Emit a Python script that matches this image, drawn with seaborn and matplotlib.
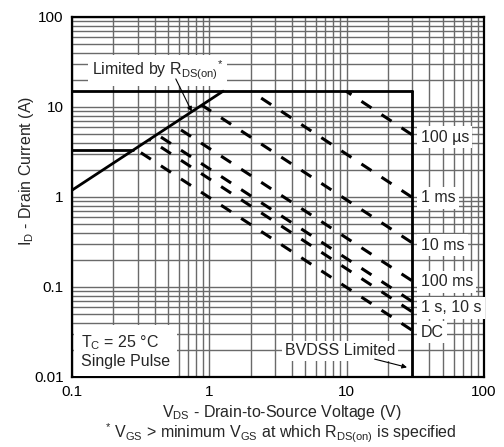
import numpy as np
import pandas as pd
import matplotlib
matplotlib.use("Agg")
import matplotlib.pyplot as plt
from matplotlib.ticker import LogLocator, NullFormatter, FixedLocator, FixedFormatter
import seaborn as sns

# ---------------- data ----------------
x_ticks = [0.1, 1, 10, 100]
x_tick_labels = ["0.1", "1", "10", "100"]
y_ticks = [0.01, 0.1, 1, 10, 100]
y_tick_labels = ["0.01", "0.1", "1", "10", "100"]

# R_DS(on) limit line
rds_v = [0.1, 1.26]
rds_i = [1.19, 15.0]
# package / pulsed current limit
cap_v = [0.1, 30.0]
cap_i = [15.0, 15.0]
# lower current step
low_v = [0.1, 0.28]
low_i = [3.35, 3.35]
# BVDSS limit
bv_v = [30.0, 30.0]
bv_i = [0.01, 15.0]

# pulse-duration (constant power) lines
pulse_names = ["100 µs", "1 ms", "10 ms", "100 ms", "1 s", "10 s", "DC"]
pulse_v_start = [9.9, 2.0, 0.88, 0.54, 0.42, 0.37, 0.29]
pulse_i_start = [15.0, 15.0, 10.5, 6.4, 4.9, 4.3, 3.4]
pulse_v_end = [30.0, 30.0, 30.0, 30.0, 30.0, 30.0, 30.0]
pulse_i_end = [4.9, 0.99, 0.31, 0.117, 0.069, 0.053, 0.033]

right_labels = ["100 µs", "1 ms", "10 ms", "100 ms", "1 s, 10 s", "DC"]
right_label_i = [4.6, 0.975, 0.29, 0.115, 0.059, 0.0316]

# ---------------- style ----------------
sns.set_style("white")
plt.rcParams["font.family"] = ["Liberation Sans", "DejaVu Sans"]
plt.rcParams["mathtext.fontset"] = "custom"
plt.rcParams["mathtext.rm"] = "Liberation Sans"
plt.rcParams["mathtext.it"] = "Liberation Sans:italic"
plt.rcParams["mathtext.bf"] = "Liberation Sans:bold"
plt.rcParams["lines.scale_dashes"] = False

DPI = 100
fig = plt.figure(figsize=(5.04, 4.47), dpi=DPI)
W, H = 504, 447
L, R, T, B = 72, 484, 17, 377
ax = fig.add_axes([L / W, 1 - B / H, (R - L) / W, (B - T) / H])
ax.set_xscale("log")
ax.set_yscale("log")
ax.set_xlim(0.1, 100)
ax.set_ylim(0.01, 100)

# grid
ax.xaxis.set_major_locator(FixedLocator(x_ticks))
ax.xaxis.set_major_formatter(FixedFormatter(x_tick_labels))
ax.yaxis.set_major_locator(FixedLocator(y_ticks))
ax.yaxis.set_major_formatter(FixedFormatter(y_tick_labels))
ax.xaxis.set_minor_locator(LogLocator(base=10, subs=range(2, 10)))
ax.yaxis.set_minor_locator(LogLocator(base=10, subs=range(2, 10)))
ax.xaxis.set_minor_formatter(NullFormatter())
ax.yaxis.set_minor_formatter(NullFormatter())
ax.set_axisbelow(True)
ax.grid(True, which="both", color="#6a6a6a", lw=1.0)
ax.tick_params(which="both", length=0, labelsize=11, pad=6, colors="black")

for s in ax.spines.values():
    s.set_color("black")
    s.set_linewidth(1.6)

# solid limit lines
solid = pd.DataFrame({
    "V": rds_v + cap_v + low_v + bv_v,
    "I": rds_i + cap_i + low_i + bv_i,
    "seg": ["rds"] * 2 + ["cap"] * 2 + ["low"] * 2 + ["bv"] * 2,
})
for seg, g in solid.groupby("seg", sort=False):
    sns.lineplot(data=g, x="V", y="I", color="black", lw=2.0, sort=False,
                 estimator=None, ax=ax, legend=False, zorder=3)

# dashed pulse lines, dash phase aligned in columns
ax.set_xlim(0.1, 100)
ax.set_ylim(0.01, 100)
ref_v = 0.87
period_dec = 0.146
xr = ax.transData.transform((ref_v, 1))[0]
period_px = ax.transData.transform((ref_v * 10 ** period_dec, 1))[0] - xr
pt = 72.0 / DPI
for name, vs, is_, ve, ie in zip(pulse_names, pulse_v_start, pulse_i_start,
                                 pulse_v_end, pulse_i_end):
    d = pd.DataFrame({"V": [vs, ve], "I": [is_, ie]})
    sns.lineplot(data=d, x="V", y="I", color="black", lw=2.2, sort=False,
                 estimator=None, ax=ax, legend=False, zorder=3)
    ln = ax.lines[-1]
    p0 = ax.transData.transform((vs, is_))
    p1 = ax.transData.transform((ve, ie))
    f = np.hypot(p1[0] - p0[0], p1[1] - p0[1]) / (p1[0] - p0[0])
    off = ((p0[0] - xr) % period_px) * f * pt
    on = period_px / 2 * f * pt
    ln.set_linestyle((off, (on, on)))
    ln.set_dash_capstyle("butt")

ax.set_xlim(0.1, 100)
ax.set_ylim(0.01, 100)
ax.set_xlabel("")
ax.set_ylabel("")

box = dict(facecolor="white", edgecolor="none", pad=2.5)
fs = 11.5
for lab, yi in zip(right_labels, right_label_i):
    ax.text(34.5, yi, lab, ha="left", va="center", fontsize=fs, bbox=box, zorder=5)

ax.text(0.42, 25.5, r"Limited by R$_{\mathrm{DS(on)}}$$^{*}$", ha="center", va="center",
        fontsize=fs, bbox=dict(facecolor="white", edgecolor="none", pad=3), zorder=5)
ax.annotate("", xy=(0.745, 8.9), xytext=(0.57, 20.5),
            arrowprops=dict(arrowstyle="-|>", color="black", lw=0.8,
                            mutation_scale=7, shrinkA=0, shrinkB=0), zorder=6)

ax.text(0.116, 0.0195, "T$_{\\mathrm{C}}$ = 25 °C\nSingle Pulse", ha="left", va="center",
        fontsize=fs, linespacing=1.15,
        bbox=dict(facecolor="white", edgecolor="none", pad=5), zorder=5)

ax.text(9.0, 0.0195, "BVDSS Limited", ha="center", va="center", fontsize=fs,
        bbox=dict(facecolor="white", edgecolor="none", pad=2), zorder=5)
ax.annotate("", xy=(27.5, 0.0128), xytext=(16.0, 0.0158),
            arrowprops=dict(arrowstyle="-|>", color="black", lw=0.8,
                            mutation_scale=7, shrinkA=0, shrinkB=0), zorder=6)

# axis labels
fig.text(27 / W, 1 - 171 / H, r"I$_{\mathrm{D}}$ - Drain Current (A)", rotation=90,
         ha="center", va="center", fontsize=fs)
fig.text(282 / W, 1 - 413 / H, r"V$_{\mathrm{DS}}$ - Drain-to-Source Voltage (V)",
         ha="center", va="center", fontsize=fs)
fig.text(281 / W, 1 - 433 / H,
         r"$^{*}$ V$_{\mathrm{GS}}$ > minimum V$_{\mathrm{GS}}$ at which R$_{\mathrm{DS(on)}}$ is specified",
         ha="center", va="center", fontsize=fs)

fig.savefig("out.png", dpi=DPI, facecolor="white")
